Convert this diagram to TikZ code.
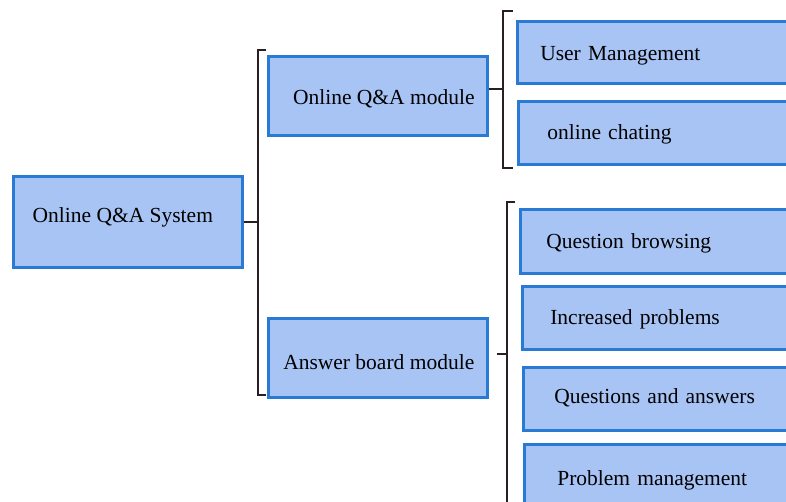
\documentclass[tikz,border=0pt]{standalone}
\usepackage{fontspec}
\setmainfont{Liberation Serif}
\definecolor{boxfill}{RGB}{168,196,245}
\definecolor{boxline}{RGB}{40,122,212}
\definecolor{brk}{RGB}{40,30,35}
\begin{document}
\begin{tikzpicture}[x=1pt,y=-1pt,
  box/.style={draw=boxline,fill=boxfill,line width=2.6pt,rectangle,anchor=north west,
    font=\fontsize{21.5}{25}\selectfont,inner sep=0pt},
  rbox/.style={box,minimum width=300,text width=300-2*#1,align=left,inner xsep=#1},
  conn/.style={draw=brk,line width=2pt},
  brak/.style={draw=brk,line width=1.5pt}]
\useasboundingbox (0,0) rectangle (786,501);
\clip (0,0) rectangle (786,501);
% root
\node[box,minimum width=229,minimum height=91,text height=10.5,text depth=9.5] (root) at (12,175) {\hspace*{-10pt}Online Q\&A System};
% modules
\node[box,minimum width=219,minimum height=79,text height=20.5,text depth=3.5] (mod) at (267,55) {\hspace*{12pt}Online Q\&A module};
\node[box,minimum width=219,minimum height=79,text height=23.5,text depth=0.5] (ans) at (267,317) {\hspace*{2pt}Answer board module};
% right boxes
\node[rbox=23,minimum height=62,text height=20,text depth=4] (um) at (516,20) {User Management};
\node[rbox=29,minimum height=63,text height=19,text depth=5] (oc) at (517,100) {online chating};
\node[rbox=26,minimum height=64,text height=19,text depth=5] (qb) at (519,208) {Question browsing};
\node[rbox=28,minimum height=63,text height=18.5,text depth=5.5] (ip) at (521,285) {Increased problems};
\node[rbox=31,minimum height=63,text height=16.5,text depth=7.5] (qa) at (522,366) {Questions and answers};
\node[rbox=33,minimum height=63,text height=21.5,text depth=2.5] (pm) at (523,443) {Problem management};
% bracket coordinates
\coordinate (b1) at (258,222);
\coordinate (b2) at (503,89);
\coordinate (b3) at (507,354);
% root bracket
\draw[conn] (root.east |- b1) -- (b1);
\draw[brak] (266,50) -- (258,50) -- (258,395) -- (266,395);
% top bracket
\draw[conn] (mod.east |- b2) -- (b2);
\draw[brak] (513,11) -- (503,11) -- (503,168) -- (513,168);
% bottom bracket
\draw[conn,shorten <=8pt] (ans.east |- b3) -- (b3);
\draw[brak] (515,202) -- (507,202) -- (507,510);
\end{tikzpicture}
\end{document}
